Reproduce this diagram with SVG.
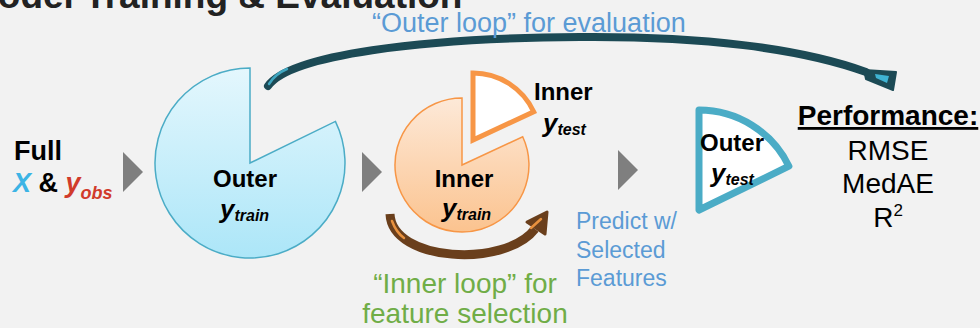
<svg xmlns="http://www.w3.org/2000/svg" width="980" height="328" viewBox="0 0 980 328">
<defs>
<linearGradient id="gOuter" x1="0" y1="0" x2="0" y2="1">
<stop offset="0" stop-color="#e4f7fd"/>
<stop offset="1" stop-color="#ace6f8"/>
</linearGradient>
<linearGradient id="gInner" x1="0" y1="0" x2="0" y2="1">
<stop offset="0" stop-color="#fde9d8"/>
<stop offset="1" stop-color="#fbc38f"/>
</linearGradient>
<style>
text{font-family:"Liberation Sans",Arial,sans-serif}
.b{font-weight:bold}
.bi{font-weight:bold;font-style:italic}
.lbl{font-size:24px;font-weight:bold;fill:#000}
.yv{font-size:26px;font-weight:bold;font-style:italic}
.sub{font-size:16px;font-weight:bold;font-style:italic}
.blue{fill:#5b9bd5}
.green{fill:#70ad47}
.perf{font-size:28px;fill:#000}
.tri{fill:#7f7f7f}
</style>
</defs>
<rect width="980" height="328" fill="#f2f2f2"/>

<g id="title">
<text x="-33" y="8" font-size="37" class="b" fill="#222">Model Training &amp; Evaluation</text>
</g>

<g id="connectors">
<polygon class="tri" points="123,152 143,172 123,192"/>
<polygon class="tri" points="362,152 382,172 362,192"/>
<polygon class="tri" points="618,150 638,170 618,190"/>
<!-- outer loop arrow -->
<path d="M268,86 C290,55 420,38 580,37 C700,36 800,48 866,72" fill="none" stroke="#1c4a55" stroke-width="8" stroke-linecap="round"/>
<path d="M269,84 Q275,74 287,69" fill="none" stroke="#3fa6c0" stroke-width="2.5" stroke-linecap="round"/>
<polygon points="864,70 896,72 893,90 866,79" fill="#1c4a55" stroke="#1c4a55" stroke-width="2" stroke-linejoin="round"/>
<polygon points="875,74 889,76 887,83 876,78" fill="#3fb3d3"/>
<!-- inner loop arrow -->
<path d="M390,214 C392,262 505,268 535,229" fill="none" stroke="#6a3f1c" stroke-width="9"/>
<path d="M392,221 Q396,232 404,238" fill="none" stroke="#e8913e" stroke-width="2.5" stroke-linecap="round"/>
<polygon points="527,222 547,212 545,234" fill="#6a3f1c" stroke="#6a3f1c" stroke-width="3" stroke-linejoin="round"/>
<path d="M531,228 L541,219" stroke="#e8913e" stroke-width="2.5" stroke-linecap="round"/>
</g>

<g id="full-data">
<text x="14" y="160" font-size="27" class="b" fill="#000">Full</text>
<text x="13" y="192" font-size="27" class="b"><tspan class="bi" fill="#3cb4e5">X</tspan><tspan fill="#000"> &amp; </tspan><tspan class="bi" fill="#d13b2b">y</tspan><tspan class="bi" fill="#d13b2b" font-size="18" dy="7">obs</tspan></text>
</g>

<g id="outer-train">
<path d="M250,163 L250,68 A95,95 0 1,0 335.4,121.4 Z" fill="url(#gOuter)" stroke="#4bacc6" stroke-width="1.5"/>
<text x="245" y="187" class="lbl" text-anchor="middle">Outer</text>
<text x="220" y="218" class="yv">y<tspan class="sub" dy="3">train</tspan></text>
</g>

<g id="inner-train">
<path d="M462,165 L462,98 A67,67 0 1,0 522.7,136.7 Z" fill="url(#gInner)" stroke="#f79646" stroke-width="1.5"/>
<text x="464" y="187" class="lbl" text-anchor="middle">Inner</text>
<text x="442" y="217" class="yv">y<tspan class="sub" dy="3">train</tspan></text>
</g>

<g id="inner-test">
<path d="M473,140 L473,73 A67,67 0 0,1 533.7,111.7 Z" fill="#fff" stroke="#f79646" stroke-width="5" stroke-linejoin="miter"/>
<text x="534" y="100" class="lbl">Inner</text>
<text x="543" y="132" class="yv">y<tspan class="sub" dy="3">test</tspan></text>
</g>

<g id="outer-test">
<path d="M699,210 L699,110 A100,100 0 0,1 788.9,166.2 Z" fill="#fff" stroke="#4bacc6" stroke-width="7" stroke-linejoin="round"/>
<text x="700" y="151" class="lbl">Outer</text>
<text x="711" y="182" class="yv">y<tspan class="sub" dy="3">test</tspan></text>
</g>

<g id="performance">
<text x="888" y="125" class="perf b" text-anchor="middle" text-decoration="underline">Performance:</text>
<text x="888" y="160" class="perf" text-anchor="middle">RMSE</text>
<text x="888" y="193" class="perf" text-anchor="middle">MedAE</text>
<text x="888" y="227" class="perf" text-anchor="middle">R<tspan font-size="17" dy="-11">2</tspan></text>
</g>

<g id="labels">
<text x="372" y="32" font-size="27" class="blue">“Outer loop” for evaluation</text>
<text x="576" y="229" font-size="23" class="blue">Predict w/</text>
<text x="576" y="258" font-size="23" class="blue">Selected</text>
<text x="576" y="286" font-size="23" class="blue">Features</text>
<text x="465" y="293" font-size="28" class="green" text-anchor="middle">“Inner loop” for</text>
<text x="465" y="323" font-size="28" class="green" text-anchor="middle">feature selection</text>
</g>
</svg>
